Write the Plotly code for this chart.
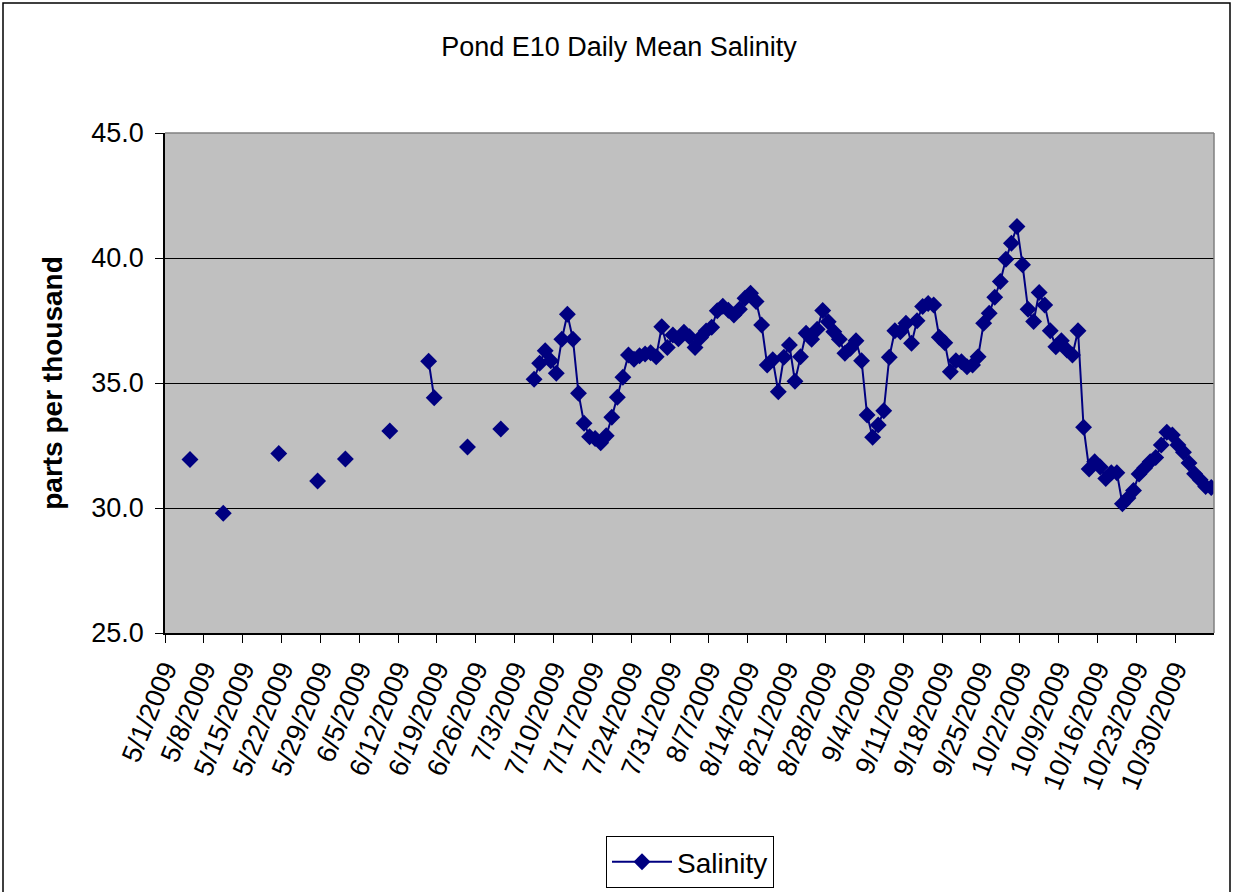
import plotly.graph_objects as go
import pandas as pd

# Sparse early observations
early_dates = ["2009-05-05", "2009-05-11", "2009-05-21", "2009-05-28", "2009-06-02",
               "2009-06-10", "2009-06-17", "2009-06-18", "2009-06-24", "2009-06-30"]
early_values = [31.94, 29.79, 32.18, 31.08, 31.96, 33.08, 35.87, 34.41, 32.44, 33.16]

# Continuous daily record starting 7/6/2009
daily_start = "2009-07-06"
daily_values = [
    35.15, 35.79, 36.29, 35.89, 35.39, 36.75, 37.75, 36.75, 34.59, 33.39,
    32.85, 32.78, 32.61, 32.89, 33.63, 34.43, 35.23, 36.12, 35.95, 36.09,
    36.16, 36.21, 36.05, 37.25, 36.42, 36.92, 36.77, 37.03, 36.85, 36.42,
    36.82, 37.08, 37.23, 37.89, 38.07, 37.91, 37.72, 37.95, 38.39, 38.59,
    38.26, 37.32, 35.72, 35.93, 34.65, 36.03, 36.52, 35.07, 36.05, 36.99,
    36.75, 37.15, 37.90, 37.45, 37.05, 36.75, 36.19, 36.39, 36.69, 35.89,
    33.72, 32.83, 33.32, 33.89, 36.03, 37.09, 37.05, 37.39, 36.59, 37.49,
    38.06, 38.18, 38.12, 36.83, 36.61, 35.45, 35.89, 35.85, 35.65, 35.72,
    36.05, 37.39, 37.79, 38.43, 39.06, 39.95, 40.59, 41.26, 39.73, 37.95,
    37.46, 38.62, 38.12, 37.09, 36.45, 36.69, 36.32, 36.12, 37.09, 33.23,
    31.56, 31.85, 31.64, 31.18, 31.41, 31.41, 30.17, 30.40, 30.70, 31.36,
    31.60, 31.85, 32.02, 32.52, 33.03, 32.92, 32.52, 32.23, 31.80, 31.37,
    31.13, 30.86, 30.82,
]

tick_dates = pd.date_range("2009-05-01", "2009-10-30", freq="7D")
tick_labels = [f"{d.month}/{d.day}/{d.year}" for d in tick_dates]

# Build a full daily series with gaps (missing days break the line)
s = pd.Series(early_values, index=pd.to_datetime(early_dates))
s2 = pd.Series(daily_values, index=pd.date_range(daily_start, periods=len(daily_values), freq="D"))
s = pd.concat([s, s2])
full_idx = pd.date_range("2009-05-01", "2009-11-05", freq="D")
s = s.reindex(full_idx)
x_vals = full_idx + pd.Timedelta(hours=12)
y_vals = [None if pd.isna(v) else float(v) for v in s.values]

fig = go.Figure()
fig.add_trace(go.Scatter(
    x=x_vals, y=y_vals, mode="lines+markers", name="Salinity",
    connectgaps=False,
    line=dict(color="#000080", width=2),
    marker=dict(symbol="diamond", size=13, color="#000080"),
))

L, R, T, B = 165, 1214, 133, 633
W, H = 1233, 892
pw, ph = R - L, B - T

fig.update_layout(
    width=W, height=H,
    margin=dict(l=L, r=W - R, t=T, b=H - B, autoexpand=False),
    paper_bgcolor="white", plot_bgcolor="#C0C0C0",
    font=dict(family="Liberation Sans, Arial, sans-serif", color="black"),
    title=dict(text="Pond E10 Daily Mean Salinity", x=619 / W, xanchor="center",
               y=1 - 47 / H, yanchor="middle", font=dict(size=27)),
    showlegend=True,
    legend=dict(x=(690 - L) / pw, xanchor="center", y=(B - 836) / ph, yanchor="top",
                bordercolor="black", borderwidth=1, bgcolor="white",
                font=dict(size=28), itemwidth=60),
)

fig.update_xaxes(
    type="date", range=["2009-05-01", "2009-11-06"],
    tickvals=tick_dates, ticktext=tick_labels, tickangle=-68,
    tickfont=dict(size=27), ticks="outside", ticklen=8, tickcolor="black",
    showline=True, linecolor="black", linewidth=1.5, mirror=False,
    showgrid=False, zeroline=False, automargin=False,
)
fig.update_yaxes(
    range=[25, 45], tickvals=[25, 30, 35, 40, 45], tickformat=".1f",
    tickfont=dict(size=27), ticks="outside", ticklen=8, tickcolor="black",
    ticklabelstandoff=6, automargin=False,
    showline=True, linecolor="black", linewidth=1.5,
    showgrid=True, gridcolor="black", gridwidth=1, zeroline=False,
    title=dict(text="<b>parts per thousand</b>", font=dict(size=28), standoff=20),
)

# Plot-area border (gray top/right)
fig.add_shape(type="line", xref="paper", yref="paper", x0=0, x1=1, y0=1, y1=1,
              line=dict(color="#808080", width=1.5))
fig.add_shape(type="line", xref="paper", yref="paper", x0=1, x1=1, y0=0, y1=1,
              line=dict(color="#808080", width=1.5))
# Chart-area border
fig.add_shape(type="rect", xref="paper", yref="paper",
              x0=(3 - L) / pw, x1=(1230 - L) / pw, y0=(B - 930) / ph, y1=(B - 3) / ph,
              line=dict(color="black", width=1.5), fillcolor="rgba(0,0,0,0)", layer="below")

fig.write_html("out.html", config={"displayModeBar": False},
               post_script="document.body.style.margin='0';")
